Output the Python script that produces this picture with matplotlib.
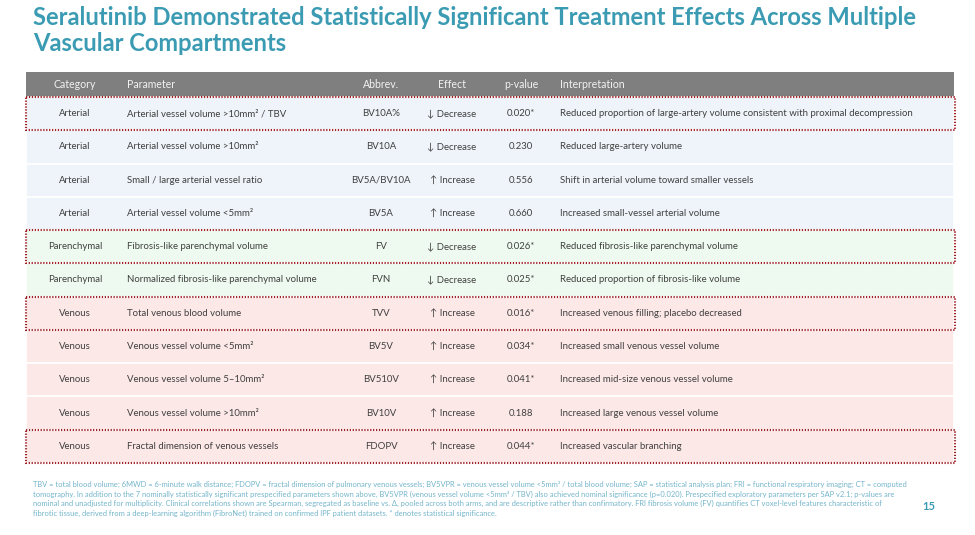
import matplotlib
matplotlib.use("Agg")
import matplotlib.pyplot as plt
from matplotlib.patches import Rectangle

categories = ["Arterial", "Arterial", "Arterial", "Arterial", "Parenchymal", "Parenchymal",
              "Venous", "Venous", "Venous", "Venous", "Venous"]
parameters = ["Arterial vessel volume >10mm² / TBV", "Arterial vessel volume >10mm²",
              "Small / large arterial vessel ratio", "Arterial vessel volume <5mm²",
              "Fibrosis-like parenchymal volume", "Normalized fibrosis-like parenchymal volume",
              "Total venous blood volume", "Venous vessel volume <5mm²",
              "Venous vessel volume 5–10mm²", "Venous vessel volume >10mm²",
              "Fractal dimension of venous vessels"]
abbrevs = ["BV10A%", "BV10A", "BV5A/BV10A", "BV5A", "FV", "FVN", "TVV", "BV5V", "BV510V", "BV10V", "FDOPV"]
effects = ["↓ Decrease", "↓ Decrease", "↑ Increase", "↑ Increase", "↓ Decrease", "↓ Decrease",
           "↑ Increase", "↑ Increase", "↑ Increase", "↑ Increase", "↑ Increase"]
pvalues = ["0.020*", "0.230", "0.556", "0.660", "0.026*", "0.025*", "0.016*", "0.034*", "0.041*", "0.188", "0.044*"]
interpretations = ["Reduced proportion of large-artery volume consistent with proximal decompression",
                   "Reduced large-artery volume",
                   "Shift in arterial volume toward smaller vessels",
                   "Increased small-vessel arterial volume",
                   "Reduced fibrosis-like parenchymal volume",
                   "Reduced proportion of fibrosis-like volume",
                   "Increased venous filling; placebo decreased",
                   "Increased small venous vessel volume",
                   "Increased mid-size venous vessel volume",
                   "Increased large venous vessel volume",
                   "Increased vascular branching"]
highlighted = [0, 4, 6, 10]
headers = ["Category", "Parameter", "Abbrev.", "Effect", "p-value", "Interpretation"]

title = "Seralutinib Demonstrated Statistically Significant Treatment Effects Across Multiple\nVascular Compartments"
footnote = ("TBV = total blood volume; 6MWD = 6-minute walk distance; FDOPV = fractal dimension of pulmonary venous vessels; BV5VPR = venous vessel volume <5mm³ / total blood volume; SAP = statistical analysis plan; FRI = functional respiratory imaging; CT = computed\n"
            "tomography. In addition to the 7 nominally statistically significant prespecified parameters shown above, BV5VPR (venous vessel volume <5mm³ / TBV) also achieved nominal significance (p=0.020). Prespecified exploratory parameters per SAP v2.1; p-values are\n"
            "nominal and unadjusted for multiplicity. Clinical correlations shown are Spearman, segregated as baseline vs. Δ, pooled across both arms, and are descriptive rather than confirmatory. FRI fibrosis volume (FV) quantifies CT voxel-level features characteristic of\n"
            "fibrotic tissue, derived from a deep-learning algorithm (FibroNet) trained on confirmed IPF patient datasets. * denotes statistical significance.")
page_number = "15"

fill_colors = {"Arterial": "#EEF4F9", "Parenchymal": "#EEFAEF", "Venous": "#FDE8E8"}

W, H = 975, 535
fig = plt.figure(figsize=(W / 100, H / 100), dpi=100)
ax = fig.add_axes([0, 0, 1, 1])
ax.set_xlim(0, W)
ax.set_ylim(H, 0)
ax.axis("off")

FONT = ["Lato", "DejaVu Sans"]
teal = "#3A9BB3"
txt = "#404040"

ax.text(33, 6, title, fontsize=17.1, fontweight="bold", color=teal, family=FONT,
        va="top", ha="left", linespacing=1.16)

left, right = 26, 954
head_top, head_bot = 72, 97
row_h = (463 - head_bot) / len(categories)

ax.add_patch(Rectangle((left, head_top), right - left, head_bot - head_top, facecolor="#7F7F7F", edgecolor="none"))
col_x = [75, 127, 381, 452, 521, 560]
col_ha = ["center", "left", "center", "center", "center", "left"]
for h, x, ha in zip(headers, col_x, col_ha):
    ax.text(x, (head_top + head_bot) / 2, h, fontsize=7.6, color="#F2F2F2", family=FONT, ha=ha, va="center")

for i, cat in enumerate(categories):
    y0 = head_bot + i * row_h
    ax.add_patch(Rectangle((left, y0), right - left, row_h, facecolor=fill_colors[cat],
                           edgecolor="white", linewidth=1.2))
    yc = y0 + row_h / 2
    vals = [cat, parameters[i], abbrevs[i], effects[i], pvalues[i], interpretations[i]]
    for v, x, ha in zip(vals, col_x, col_ha):
        ax.text(x, yc, v, fontsize=6.9, color=txt, family=FONT, ha=ha, va="center")

for i in highlighted:
    y0 = head_bot + i * row_h
    ax.add_patch(Rectangle((left, y0), right - left + 1, row_h, facecolor="none",
                           edgecolor="#9E1F24", linewidth=1.5, linestyle=(0, (0.6, 0.8)), zorder=5))

ax.text(33, 481, footnote, fontsize=5.4, color="#74B5CB", family=FONT, va="top", ha="left", linespacing=1.38)
ax.text(929, 507, page_number, fontsize=8, fontweight="bold", color=teal, family=FONT, ha="center", va="center")

fig.savefig("out.png", dpi=100)
